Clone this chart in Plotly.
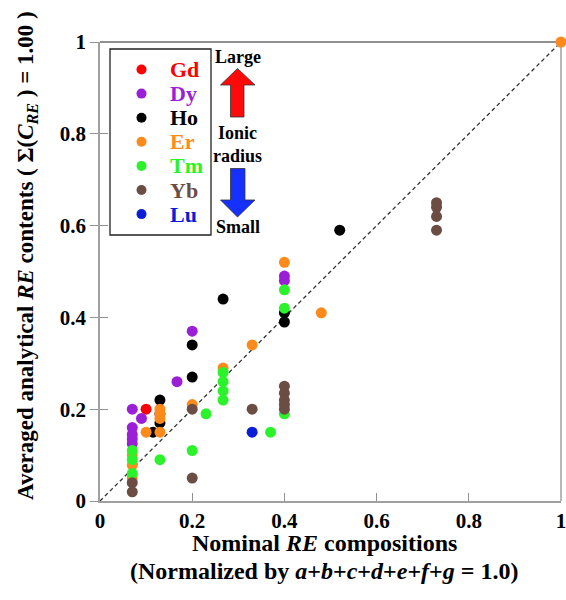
import plotly.graph_objects as go

# Rare-earth elements, ordered from large to small ionic radius
elements = ["Gd", "Dy", "Ho", "Er", "Tm", "Yb", "Lu"]
colors = ["#ff0000", "#9b1fd6", "#000000", "#ff8a1c", "#2cf22c", "#6b4d44", "#0a1ed8"]

# Nominal composition (x) vs averaged analytical content (y) for each element
gd_x = [0.10]
gd_y = [0.20]
dy_x = [0.07, 0.07, 0.07, 0.07, 0.07, 0.09, 0.167, 0.20, 0.40, 0.40]
dy_y = [0.20, 0.16, 0.145, 0.135, 0.125, 0.18, 0.26, 0.37, 0.49, 0.48]
ho_x = [0.115, 0.13, 0.13, 0.13, 0.20, 0.20, 0.267, 0.40, 0.40, 0.52]
ho_y = [0.15, 0.22, 0.19, 0.17, 0.34, 0.27, 0.44, 0.41, 0.39, 0.59]
er_x = [0.07, 0.07, 0.07, 0.10, 0.13, 0.13, 0.13, 0.13, 0.20, 0.267, 0.33, 0.40, 0.48, 1.00]
er_y = [0.10, 0.078, 0.05, 0.15, 0.20, 0.19, 0.18, 0.15, 0.21, 0.29, 0.34, 0.52, 0.41, 1.00]
tm_x = [0.07, 0.07, 0.07, 0.13, 0.20, 0.23, 0.267, 0.267, 0.267, 0.267, 0.37, 0.40, 0.40, 0.40]
tm_y = [0.11, 0.09, 0.06, 0.09, 0.11, 0.19, 0.28, 0.26, 0.24, 0.22, 0.15, 0.46, 0.42, 0.19]
yb_x = [0.07, 0.07, 0.20, 0.20, 0.33, 0.40, 0.40, 0.40, 0.40, 0.40, 0.73, 0.73, 0.73, 0.73]
yb_y = [0.04, 0.02, 0.20, 0.05, 0.20, 0.25, 0.235, 0.22, 0.21, 0.20, 0.65, 0.64, 0.62, 0.59]
lu_x = [0.33]
lu_y = [0.15]

xs = [gd_x, dy_x, ho_x, er_x, tm_x, yb_x, lu_x]
ys = [gd_y, dy_y, ho_y, er_y, tm_y, yb_y, lu_y]

tick_vals = [0, 0.2, 0.4, 0.6, 0.8, 1]
tick_text = ["0", "0.2", "0.4", "0.6", "0.8", "1"]

FONT = "Liberation Serif"
W, H = 566, 600
L, R, T, B = 100, 5, 42, 99
PW, PH = W - L - R, H - T - B


def px(xp):
    return (xp - L) / PW


def py(yp):
    return (H - B - yp) / PH


fig = go.Figure()

# 1:1 reference line
fig.add_trace(go.Scatter(x=[0, 1], y=[0, 1], mode="lines",
                         line=dict(color="#333333", width=1.3, dash="4px,3px"),
                         showlegend=False, hoverinfo="skip"))

for name, c, x, y in zip(elements, colors, xs, ys):
    fig.add_trace(go.Scatter(x=x, y=y, mode="markers", name=name, cliponaxis=False,
                             marker=dict(color=c, size=11, line=dict(width=0)),
                             showlegend=False))

# inside-facing companion ticks on the y axis
fig.add_trace(go.Scatter(x=[0], y=[0], yaxis="y2", mode="markers",
                         marker=dict(opacity=0), showlegend=False, hoverinfo="skip"))

shapes = []
annotations = []

# frame: dark top edge, grey right edge
shapes.append(dict(type="line", xref="paper", yref="paper", x0=0, x1=1, y0=1, y1=1,
                   layer="below", line=dict(color="#222222", width=1.2)))
shapes.append(dict(type="line", xref="paper", yref="paper", x0=1, x1=1, y0=0, y1=1,
                   layer="below", line=dict(color="#a0a0a0", width=1.5)))

# legend box
shapes.append(dict(type="rect", xref="paper", yref="paper",
                   x0=px(110), x1=px(211), y0=py(235), y1=py(49),
                   line=dict(color="#222222", width=1.3), fillcolor="white"))
for i, (name, c) in enumerate(zip(elements, colors)):
    yc = py(69.5 + 24.1 * i)
    shapes.append(dict(type="circle", xref="paper", yref="paper",
                       xsizemode="pixel", ysizemode="pixel",
                       xanchor=px(141.5), yanchor=yc,
                       x0=-5, x1=5, y0=-5, y1=5,
                       fillcolor=c, line=dict(width=0)))
    annotations.append(dict(xref="paper", yref="paper", x=px(168), y=yc,
                            xanchor="left", yanchor="middle", showarrow=False,
                            text=name, font=dict(family=FONT, size=22, color=c, weight="bold")))

# ionic radius arrows
cx = 237.5
up = [(cx, 68.5), (255, 85), (244, 85), (244, 117), (230.5, 117), (230.5, 85), (220.5, 85)]
dn = [(230.5, 168.5), (245, 168.5), (245, 200), (255, 200), (cx, 217), (220.5, 200), (230.5, 200)]
for pts, fill in [(up, "#ff0a0a"), (dn, "#1530ff")]:
    path = "M " + " L ".join(f"{px(a):.5f},{py(b):.5f}" for a, b in pts) + " Z"
    shapes.append(dict(type="path", xref="paper", yref="paper", path=path,
                       fillcolor=fill, line=dict(color="#333333", width=0.8)))

for txt, yp in [("Large", 57.5), ("Ionic", 133), ("radius", 156), ("Small", 226.5)]:
    annotations.append(dict(xref="paper", yref="paper", x=px(cx), y=py(yp),
                            xanchor="center", yanchor="middle", showarrow=False,
                            text=txt, font=dict(family=FONT, size=18, color="black", weight="bold")))

# axis titles
annotations.append(dict(xref="paper", yref="paper", x=px(324), y=py(543),
                        xanchor="center", yanchor="middle", showarrow=False,
                        text="Nominal <i>RE</i> compositions",
                        font=dict(family=FONT, size=24, color="black", weight="bold")))
annotations.append(dict(xref="paper", yref="paper", x=px(324), y=py(571),
                        xanchor="center", yanchor="middle", showarrow=False,
                        text="(Normalized by <i>a</i>+<i>b</i>+<i>c</i>+<i>d</i>+<i>e</i>+<i>f</i>+<i>g</i> = 1.0)",
                        font=dict(family=FONT, size=24, color="black", weight="bold")))
annotations.append(dict(xref="paper", yref="paper", x=px(27), y=py(256),
                        xanchor="center", yanchor="middle", showarrow=False, textangle=-90,
                        text="Averaged analytical <i>RE</i> contents ( \u03a3(<i>C</i><sub><i>RE</i></sub> ) = 1.00 )",
                        font=dict(family=FONT, size=23, color="black", weight="bold")))

tickfont = dict(family=FONT, size=21, color="black", weight="bold")

fig.update_layout(
    width=W, height=H,
    margin=dict(l=L, r=R, t=T, b=B, autoexpand=False),
    paper_bgcolor="white", plot_bgcolor="white",
    showlegend=False,
    xaxis=dict(range=[0, 1], tickvals=tick_vals, ticktext=tick_text,
               ticks="inside", ticklen=8, tickcolor="#909090", tickwidth=1.2,
               ticklabeloverflow="allow", automargin=False,
               showgrid=False, zeroline=False, showline=True,
               linecolor="#a0a0a0", linewidth=1.5, tickfont=tickfont),
    yaxis=dict(range=[0, 1], tickvals=tick_vals, ticktext=tick_text,
               ticks="outside", ticklen=8, tickcolor="#909090", tickwidth=1.2,
               automargin=False,
               showgrid=False, zeroline=False, showline=True,
               linecolor="#a0a0a0", linewidth=1.5, tickfont=tickfont),
    yaxis2=dict(range=[0, 1], tickvals=tick_vals, overlaying="y", side="left",
                ticks="inside", ticklen=8, tickcolor="#909090", tickwidth=1.2,
                automargin=False,
                showticklabels=False, showgrid=False, zeroline=False, showline=False),
    shapes=shapes,
    annotations=annotations,
)

fig.write_html("out.html")
